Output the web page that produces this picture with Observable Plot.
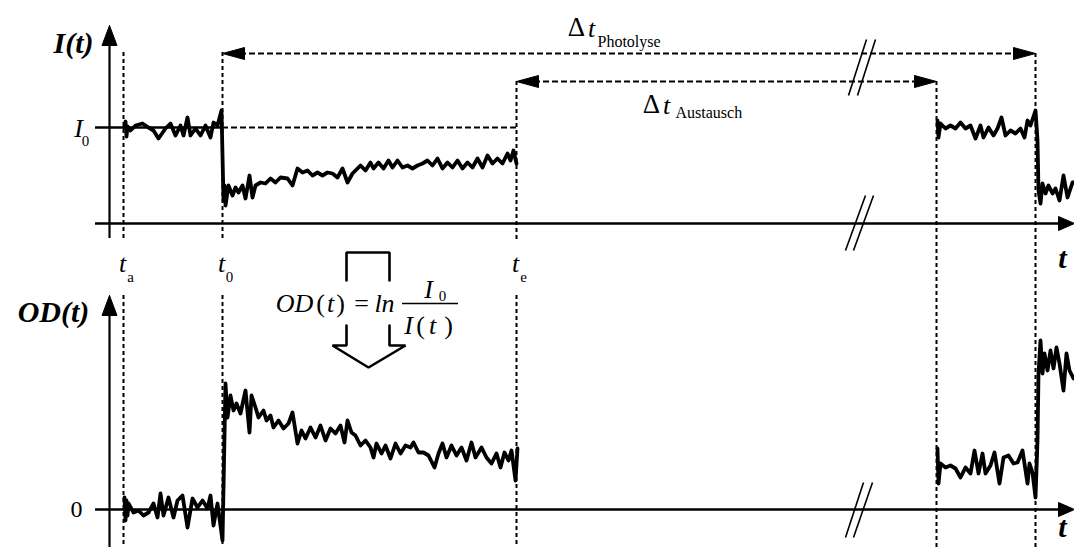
<!DOCTYPE html>
<html>
<head>
<meta charset="utf-8">
<script src="https://cdn.jsdelivr.net/npm/d3@7"></script>
<script src="https://cdn.jsdelivr.net/npm/@observablehq/plot@0.6"></script>
<style>
  html, body { margin: 0; padding: 0; background: #fff; }
  #chart svg { display: block; }
  #chart svg text { font-family: "Liberation Serif", "Times New Roman", "DejaVu Serif", serif !important; }
</style>
</head>
<body>
<div id="chart"></div>
<script>
// ---- key times (schematic time units, y-axis at t = 0) ----
const tA = 14, t0 = 113, tE = 407, tR = 827, tEnd = 926;
const I0 = 96;              // reference intensity level
const topBase = 324;        // plot-y of I = 0  (upper panel)
const botBase = 38;         // plot-y of OD = 0 (lower panel)

// ---- I(t) trace: [time, intensity] ----
const iPre = [[15,96],[16,102],[17,87],[18,97],[21,93],[26,98],[33,100],[39,96],[44,93],[49,85],[56,95],[61,100],[66,88],[71,98],[74,88],[78,106],[81,88],[86,95],[91,88],[96,98],[101,86],[104,101],[108,98],[112,113]];
const iPost = [[114,23],[115,38],[116,18],[119,38],[123,28],[126,36],[129,31],[133,38],[136,25],[140,48],[143,26],[146,38],[151,41],[156,40],[161,45],[166,41],[171,46],[178,45],[183,38],[188,55],[193,51],[198,53],[203,48],[208,51],[213,48],[218,51],[223,50],[228,46],[233,55],[238,41],[243,50],[248,55],[251,58],[256,53],[261,61],[264,55],[269,61],[274,55],[279,63],[283,56],[288,63],[293,56],[298,58],[303,55],[308,58],[313,60],[318,63],[323,58],[328,65],[333,55],[338,61],[343,56],[348,63],[353,55],[358,61],[363,56],[368,65],[373,56],[378,68],[383,60],[388,65],[393,60],[398,70],[401,63],[404,73],[407,60]];
const iRefill = [[828,103],[829,86],[831,100],[836,95],[841,98],[846,95],[851,101],[856,95],[861,98],[866,85],[871,98],[874,86],[879,96],[884,88],[888,95],[892,106],[896,88],[901,93],[906,90],[911,95],[915,86],[918,103],[921,98],[926,113],[928,83]];
const iPost2 = [[929,33],[931,20],[933,40],[936,30],[939,38],[943,30],[946,35],[950,23],[954,48],[958,26],[963,41],[965,41]];

// ---- OD(t) trace: [time, optical density] ----
const odPre = [[15,12],[16,-11],[17,9],[18,-6],[19,6],[24,-3],[29,-1],[34,-6],[39,-3],[44,6],[48,-8],[51,16],[54,-6],[59,12],[64,-8],[68,9],[73,14],[78,-18],[83,11],[88,2],[93,9],[98,1],[101,14],[104,-16],[108,6],[113,-31]];
const odPost = [[116,126],[118,92],[121,114],[124,99],[127,106],[131,96],[136,119],[140,77],[142,114],[146,102],[149,92],[154,99],[157,89],[161,94],[164,82],[169,89],[174,81],[179,86],[183,97],[188,66],[192,79],[196,71],[201,82],[206,72],[211,84],[216,69],[221,81],[226,76],[231,84],[235,67],[238,89],[242,77],[246,74],[251,64],[256,69],[261,62],[264,52],[267,66],[272,56],[276,64],[281,51],[286,66],[291,56],[296,64],[301,62],[304,67],[309,57],[314,57],[319,54],[325,42],[329,56],[333,66],[337,52],[342,64],[347,54],[352,62],[357,49],[362,67],[366,52],[372,62],[377,52],[382,46],[387,56],[391,42],[395,57],[399,49],[402,59],[406,29],[408,61]];
const odRefill = [[828,61],[829,26],[831,46],[836,42],[841,44],[846,41],[851,32],[856,42],[861,36],[865,59],[869,36],[873,56],[876,36],[881,44],[885,57],[890,26],[894,52],[899,54],[904,46],[908,47],[913,59],[918,26],[920,46],[923,37],[926,12],[928,69]];
const odPost2 = [[929,136],[931,169],[933,136],[935,156],[938,139],[941,159],[944,141],[947,162],[950,146],[954,119],[957,156],[960,139],[964,131]];

// ---- labels ----
const tickLabels = [
  {s: "t", sub: "a", t: tA},
  {s: "t", sub: "0", t: t0},
  {s: "t", sub: "e", t: tE}
];

// ---------- build tables ----------
const asRows = (arr, base, id) => arr.map(([t, v]) => ({t, y: v + base, id}));
const traces = [
  ...asRows(iPre.concat(iPost), topBase, "i1"),
  ...asRows(iRefill.concat(iPost2), topBase, "i2"),
  ...asRows(odPre.concat(odPost), botBase, "o1"),
  ...asRows(odRefill.concat(odPost2), botBase, "o2")
];

const tri = (id, tip, b1, b2) => [tip, b1, b2, tip].map(([t, y]) => ({t, y, id}));
const heads = [
  ...tri("ya", [0, 522], [-7.5, 502], [7.5, 502]),
  ...tri("yb", [0, 252], [-7.5, 232], [7.5, 232]),
  ...tri("xa", [965, topBase], [949, topBase + 7], [949, topBase - 7]),
  ...tri("xb", [965, botBase], [949, botBase + 7], [949, botBase - 7]),
  ...tri("p1", [t0, 494], [t0 + 22, 500], [t0 + 22, 488]),
  ...tri("p2", [tEnd, 494], [tEnd - 22, 500], [tEnd - 22, 488]),
  ...tri("a1", [tE, 466], [tE + 22, 472], [tE + 22, 460]),
  ...tri("a2", [tR, 466], [tR - 22, 472], [tR - 22, 460])
];

const dashV = [
  {t: tA, y1: 495, y2: 307}, {t: tA, y1: 252, y2: 0},
  {t: t0, y1: 495, y2: 307}, {t: t0, y1: 252, y2: 0},
  {t: tE, y1: 466, y2: 307}, {t: tE, y1: 252, y2: 0},
  {t: tR, y1: 466, y2: 0},
  {t: tEnd, y1: 494, y2: 0}
];

const breaks = [
  {x1: 757, y1: 508, x2: 739, y2: 452}, {x1: 766, y1: 508, x2: 748, y2: 452},
  {x1: 756, y1: 352, x2: 736, y2: 297}, {x1: 764, y1: 352, x2: 744, y2: 297},
  {x1: 754, y1: 65, x2: 736, y2: 10}, {x1: 763, y1: 65, x2: 744, y2: 10}
];

const hollow = [
  ...[[237,267],[237,295],[280,295],[280,267]].map(([t,y]) => ({t, y, id: "h1"})),
  ...[[237,222],[237,202],[223,202],[259,180],[296,202],[280,202],[280,222]].map(([t,y]) => ({t, y, id: "h2"}))
];

const serif = "'Liberation Serif', 'Times New Roman', 'DejaVu Serif', serif";
const boldItal = [
  {x: -36, y: 504, s: "I(t)", a: "middle"},
  {x: -56, y: 235, s: "OD(t)", a: "middle"},
  {x: 953, y: 289, s: "t", a: "start"},
  {x: 953, y: 20, s: "t", a: "start"}
];
const ital = [
  {x: -31, y: 419, s: "I"},
  ...tickLabels.map(d => ({x: d.t - 1, y: 284, s: d.s})),
  {x: 482, y: 519, s: "t"},
  {x: 557, y: 442, s: "t"}
];
const subs = [
  {x: -24, y: 406, s: "0"},
  ...tickLabels.map(d => ({x: d.t + 7, y: 270, s: d.sub}))
];
const deltas = [{x: 467, y: 520, s: "Δ"}, {x: 542, y: 443, s: "Δ"}];
const subWords = [{x: 488, y: 506, s: "Photolyse"}, {x: 566, y: 435, s: "Austausch"}];

const fItal = [
  {x: 185, y: 244, s: "OD"}, {x: 221, y: 244, s: "t"}, {x: 275, y: 244, s: "ln"},
  {x: 319, y: 258, s: "I"}, {x: 299, y: 222, s: "I"}, {x: 323, y: 222, s: "t"}
];
const fUp = [
  {x: 211, y: 244, s: "("}, {x: 231, y: 244, s: ")"}, {x: 252, y: 244, s: "="},
  {x: 311, y: 222, s: "("}, {x: 339, y: 222, s: ")"}
];

const chart = Plot.plot({
  width: 1074,
  height: 547,
  margin: 0,
  x: {domain: [-109, 965], axis: null},
  y: {domain: [0, 547], axis: null},
  style: {background: "white", fontFamily: serif},
  marks: [
    // dashed guide lines
    Plot.ruleX(dashV, {x: "t", y1: "y1", y2: "y2", stroke: "black", strokeWidth: 2, strokeDasharray: "4,3"}),
    Plot.ruleY([494], {x1: t0 + 18, x2: tEnd - 18, stroke: "black", strokeWidth: 2, strokeDasharray: "6,3"}),
    Plot.ruleY([466], {x1: tE + 18, x2: tR - 18, stroke: "black", strokeWidth: 2, strokeDasharray: "6,3"}),
    Plot.ruleY([I0 + topBase], {x1: t0, x2: tE, stroke: "black", strokeWidth: 2, strokeDasharray: "6,3"}),
    // axes
    Plot.ruleX([0], {y1: 309, y2: 505, stroke: "black", strokeWidth: 2.2}),
    Plot.ruleX([0], {y1: 0, y2: 235, stroke: "black", strokeWidth: 2.2}),
    Plot.ruleY([topBase, botBase], {x1: -14, x2: 952, stroke: "black", strokeWidth: 2.5}),
    Plot.ruleY([I0 + topBase], {x1: -14, x2: t0, stroke: "black", strokeWidth: 2.5}),
    Plot.line(heads, {x: "t", y: "y", z: "id", fill: "black", stroke: "black", strokeWidth: 1}),
    // axis breaks
    Plot.link(breaks, {x1: "x1", y1: "y1", x2: "x2", y2: "y2", stroke: "black", strokeWidth: 1.6}),
    // traces
    Plot.line(traces, {x: "t", y: "y", z: "id", stroke: "black", strokeWidth: 3.8, strokeLinejoin: "round", curve: "linear"}),
    // hollow arrow
    Plot.line(hollow, {x: "t", y: "y", z: "id", stroke: "black", strokeWidth: 2.6, strokeLinejoin: "miter"}),
    Plot.ruleY([244], {x1: 293, x2: 349, stroke: "black", strokeWidth: 1.3}),
    // text
    Plot.text(boldItal, {x: "x", y: "y", text: "s", textAnchor: "a", fontFamily: serif, fontSize: 30, fontWeight: "bold", fontStyle: "italic", fill: "black"}),
    Plot.text(ital, {x: "x", y: "y", text: "s", fontFamily: serif, fontSize: 26, fontStyle: "italic", fill: "black"}),
    Plot.text(subs, {x: "x", y: "y", text: "s", fontFamily: serif, fontSize: 15, fill: "black"}),
    Plot.text(deltas, {x: "x", y: "y", text: "s", fontFamily: serif, fontSize: 27, fill: "black"}),
    Plot.text(subWords, {x: "x", y: "y", text: "s", textAnchor: "start", fontFamily: serif, fontSize: 16, fill: "black"}),
    Plot.text([{x: -33, y: 38, s: "0"}], {x: "x", y: "y", text: "s", fontFamily: serif, fontSize: 24, fill: "black"}),
    Plot.text(fItal, {x: "x", y: "y", text: "s", fontFamily: serif, fontSize: 26, fontStyle: "italic", fill: "black"}),
    Plot.text(fUp, {x: "x", y: "y", text: "s", fontFamily: serif, fontSize: 26, fill: "black"}),
    Plot.text([{x: 333, y: 251, s: "0"}], {x: "x", y: "y", text: "s", fontFamily: serif, fontSize: 15, fill: "black"})
  ]
});
document.getElementById("chart").appendChild(chart);
</script>
</body>
</html>
